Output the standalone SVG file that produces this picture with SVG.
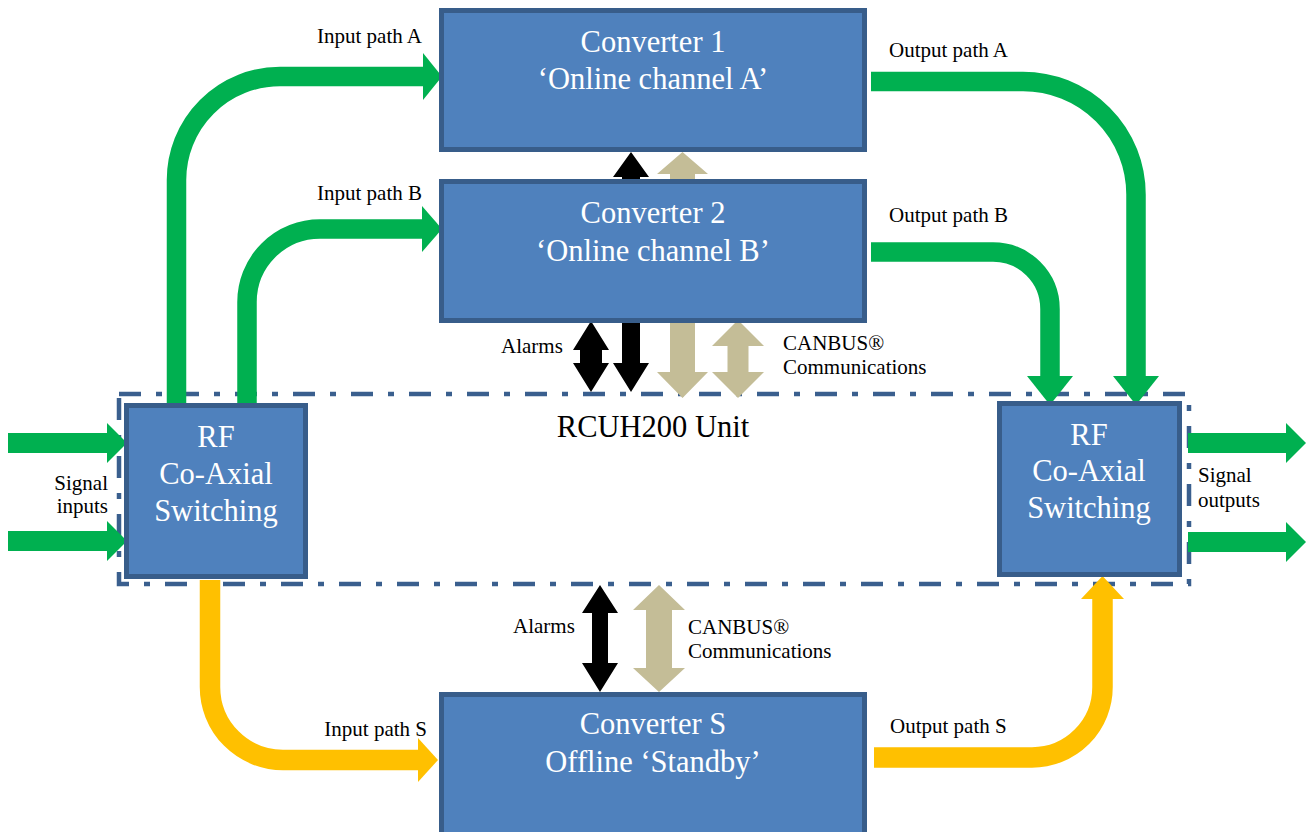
<svg xmlns="http://www.w3.org/2000/svg" width="1311" height="832" viewBox="0 0 1311 832">
<style>
.box{fill:#4f81bd;stroke:#385d8a;stroke-width:5}
.bt{font-family:'Liberation Serif','Times New Roman',Times,'DejaVu Serif',serif;font-size:30.5px;fill:#ffffff;text-anchor:middle}
.lb{font-family:'Liberation Serif','Times New Roman',Times,'DejaVu Serif',serif;font-size:21px;fill:#000000}
.g{fill:none;stroke:#00b050;stroke-width:19.5}
.gh{fill:#00b050}
.o{fill:none;stroke:#ffc000;stroke-width:20.5}
.oh{fill:#ffc000}
.blk{fill:#000000}
.tan{fill:#c4bd97}
.unit{fill:none;stroke:#3a5f8e;stroke-width:4.5;stroke-dasharray:22 15 6 15}
</style>
<rect width="1311" height="832" fill="#ffffff"/>
<g id="rcuh200-unit">
<rect class="unit" x="119" y="394" width="1070" height="190"/>
<text class="bt" x="653" y="437" style="fill:#000">RCUH200 Unit</text>
</g>
<g id="connectors">
<path class="g" d="M176.5,403 V180 A103.5,103.5 0 0 1 280,76.5 H424"/>
<polygon class="gh" points="423,53 442,76.5 423,100"/>
<path class="g" d="M247,403 V302 A73,73 0 0 1 320,229 H423"/>
<polygon class="gh" points="422,206 442,229 422,252"/>
<path class="g" d="M871,81.5 H1023 A113,113 0 0 1 1136,194.5 V377"/>
<polygon class="gh" points="1113,376 1136,405 1159,376"/>
<path class="g" d="M871,252 H993 A57,57 0 0 1 1050,309 V377"/>
<polygon class="gh" points="1027,376 1050,405 1073,376"/>
<rect class="gh" x="8" y="433" width="100" height="20"/>
<polygon class="gh" points="107,423 127,443 107,463"/>
<rect class="gh" x="8" y="531" width="100" height="20"/>
<polygon class="gh" points="107,521 127,541 107,561"/>
<rect class="gh" x="1188" y="433" width="99" height="20"/>
<polygon class="gh" points="1286,423 1306,443 1286,463"/>
<rect class="gh" x="1188" y="532" width="99" height="20"/>
<polygon class="gh" points="1286,522 1306,542 1286,562"/>
<path class="o" d="M210,580 V687 A73,73 0 0 0 283,760 H419"/>
<polygon class="oh" points="418,738 438,760 418,782"/>
<path class="o" d="M874,757.5 H1032 A70.5,70.5 0 0 0 1102.5,687 V598"/>
<polygon class="oh" points="1081,599 1102.5,576 1124,599"/>
<polygon class="blk" points="631,152 649,177 640,177 640,363 649,363 631,392 613,363 622,363 622,177 613,177"/>
<polygon class="tan" points="682.5,152 708,174 695,174 695,372 708,372 682.5,398 657,372 670,372 670,174 657,174"/>
<polygon class="blk" points="591,321 609,350 602,350 602,363 609,363 591,392 573,363 580,363 580,350 573,350"/>
<polygon class="tan" points="738,320 764,346 748.5,346 748.5,372 764,372 738,398 712,372 727.5,372 727.5,346 712,346"/>
<polygon class="blk" points="600,585 618,613 608,613 608,663 618,663 600,692 582,663 592,663 592,613 582,613"/>
<polygon class="tan" points="659,585 685,610 672,610 672,668 685,668 659,692 633,668 646,668 646,610 633,610"/>
</g>
<g id="labels">
<text class="lb" x="422" y="43" text-anchor="end">Input path A</text>
<text class="lb" x="422" y="200" text-anchor="end">Input path B</text>
<text class="lb" x="889" y="57">Output path A</text>
<text class="lb" x="889" y="222">Output path B</text>
<text class="lb" x="427" y="736" text-anchor="end">Input path S</text>
<text class="lb" x="890" y="733">Output path S</text>
<text class="lb" x="501" y="353">Alarms</text>
<text class="lb" x="783" y="350">CANBUS®</text>
<text class="lb" x="783" y="374">Communications</text>
<text class="lb" x="513" y="633">Alarms</text>
<text class="lb" x="688" y="634">CANBUS®</text>
<text class="lb" x="688" y="658">Communications</text>
<text class="lb" x="108" y="490" text-anchor="end">Signal</text>
<text class="lb" x="108" y="513" text-anchor="end">inputs</text>
<text class="lb" x="1198" y="482">Signal</text>
<text class="lb" x="1198" y="507">outputs</text>
</g>
<g id="converter-1">
<rect class="box" x="441.5" y="10.5" width="423" height="139"/>
<text class="bt" x="653" y="52">Converter 1</text>
<text class="bt" x="653" y="89">‘Online channel A’</text>
</g>
<g id="converter-2">
<rect class="box" x="441.5" y="181.5" width="423" height="139"/>
<text class="bt" x="653" y="223">Converter 2</text>
<text class="bt" x="653" y="261">‘Online channel B’</text>
</g>
<g id="converter-s">
<rect class="box" x="441.5" y="694.5" width="423" height="150"/>
<text class="bt" x="653" y="734">Converter S</text>
<text class="bt" x="653" y="772">Offline ‘Standby’</text>
</g>
<g id="rf-switch-in">
<rect class="box" x="126.5" y="405.5" width="179" height="171"/>
<text class="bt" x="216" y="447">RF</text>
<text class="bt" x="216" y="484">Co-Axial</text>
<text class="bt" x="216" y="521">Switching</text>
</g>
<g id="rf-switch-out">
<rect class="box" x="999.5" y="403.5" width="180" height="171"/>
<text class="bt" x="1089" y="445">RF</text>
<text class="bt" x="1089" y="481">Co-Axial</text>
<text class="bt" x="1089" y="518">Switching</text>
</g>
</svg>
